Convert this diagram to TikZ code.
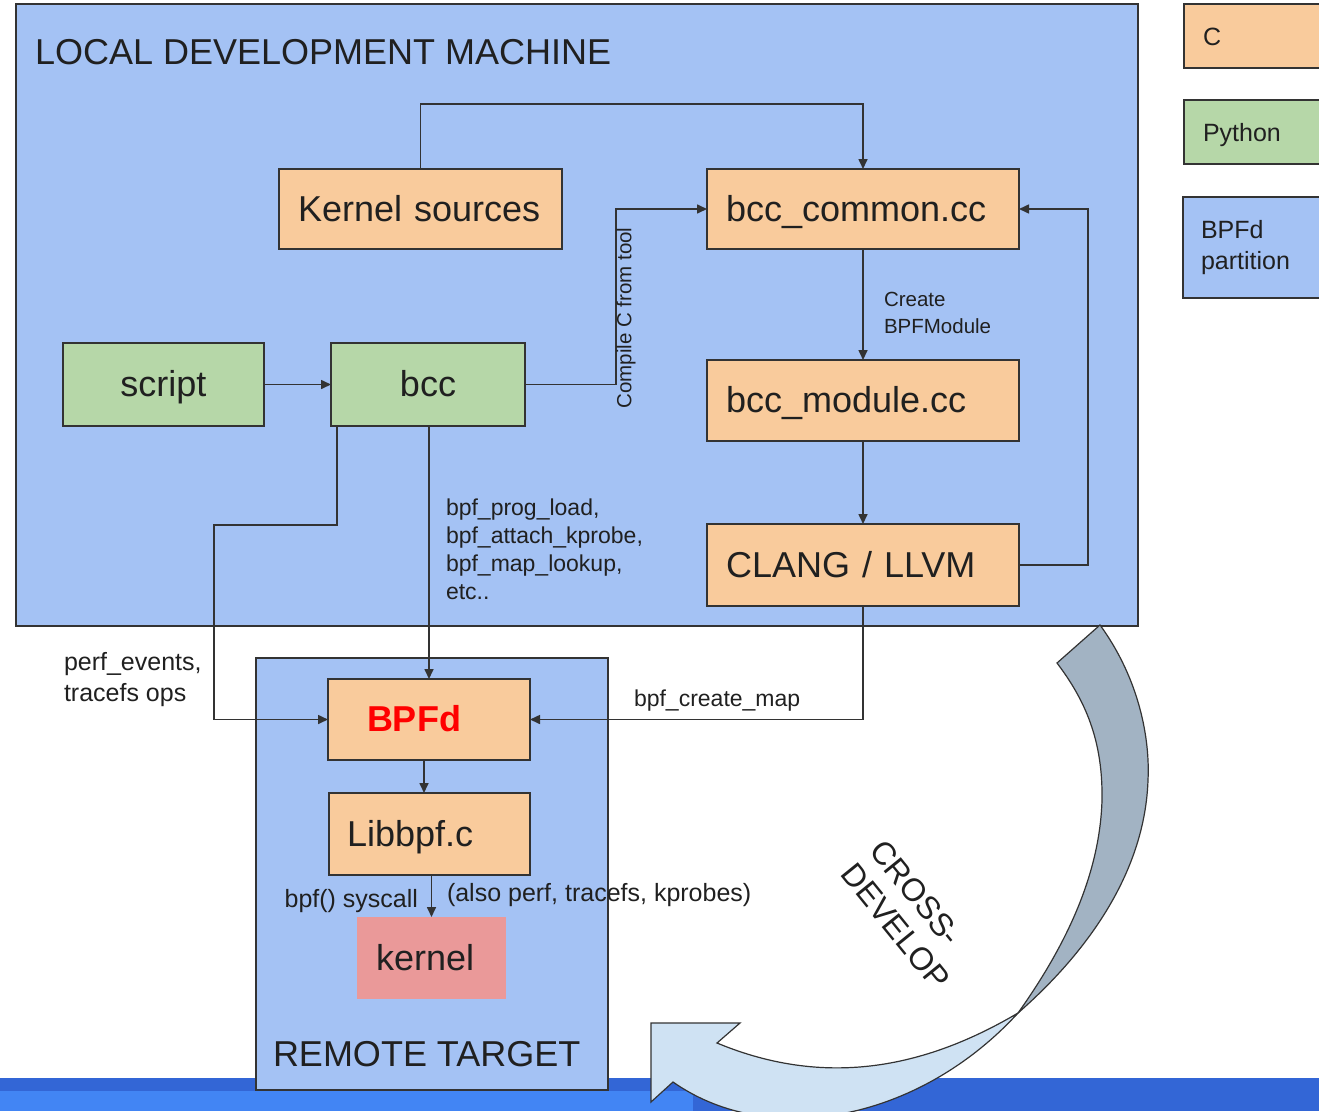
\documentclass[tikz,border=0pt]{standalone}
\usepackage{fontspec}
\setmainfont{Liberation Sans}
\usetikzlibrary{arrows.meta}
\definecolor{bpfblue}{HTML}{A4C2F4}
\definecolor{corange}{HTML}{F9CB9C}
\definecolor{pygreen}{HTML}{B6D7A8}
\definecolor{kred}{HTML}{EA9999}
\definecolor{linec}{HTML}{333333}
\definecolor{bara}{HTML}{3366D6}
\definecolor{barb}{HTML}{4285F4}
\definecolor{arrgray}{HTML}{A2B3C3}
\definecolor{arrlight}{HTML}{CFE2F3}
\definecolor{txt}{HTML}{202020}
\newcommand\szbig{\fontsize{36}{42}\selectfont}
\newcommand\szlbl{\fontsize{23}{28}\selectfont}
\newcommand\szmid{\fontsize{25}{31}\selectfont}
\newcommand\szsm{\fontsize{20.5}{27}\selectfont}
\newcommand\szcross{\fontsize{32}{37}\selectfont}
\begin{document}
\begin{tikzpicture}[x=1pt,y=-1pt,
  every node/.style={inner sep=0pt, outer sep=0pt, text=txt},
  box/.style={draw=linec, line width=1.8pt, anchor=north west, align=left,
    font=\szbig, text height=32pt, text depth=8pt},
  cbox/.style={box, fill=corange},
  pbox/.style={box, fill=pygreen},
  area/.style={draw=linec, line width=1.6pt, fill=bpfblue, anchor=north west},
  legbox/.style={draw=linec, line width=1.8pt, anchor=north west, align=left,
    font=\szmid, minimum width=200pt, text width=162pt},
  arr/.style={draw=linec, line width=1.6pt, -{Triangle[length=10pt,width=9pt]}},
  lbl/.style={anchor=north west, align=left},
]
\useasboundingbox (0,0) rectangle (1319,1111);
\clip (0,0) rectangle (1319,1111);
% bottom bar
\fill[bara] (0,1078) rectangle (1319,1111);
\fill[barb] (0,1091) rectangle (693,1111);

% containers
\node[area, minimum width=1122pt, minimum height=622pt] (local) at (16,4) {};
\node[area, minimum width=352pt, minimum height=432pt] (remote) at (256,658) {};
\node[anchor=base west, font=\szbig] (title) at (35,64) {LOCAL DEVELOPMENT MACHINE};
\node[anchor=base west, font=\szbig] (rtitle) at (273,1066) {REMOTE TARGET};

% boxes
\node[cbox, minimum width=283pt, minimum height=80pt, text width=245pt] (ks) at (279,169) {Kernel sources};
\node[cbox, minimum width=312pt, minimum height=80pt, text width=274pt] (bcom) at (707,169) {bcc\_common.cc};
\node[pbox, minimum width=201pt, minimum height=83pt, text width=201pt, align=center] (script) at (63,343) {script};
\node[pbox, minimum width=194pt, minimum height=83pt, text width=194pt, align=center] (bcc) at (331,343) {bcc};
\node[cbox, minimum width=312pt, minimum height=81pt, text width=274pt] (bmod) at (707,360) {bcc\_module.cc};
\node[cbox, minimum width=312pt, minimum height=82pt, text width=274pt] (clang) at (707,524) {CLANG / LLVM};
\node[cbox, minimum width=202pt, minimum height=81pt, text width=124pt, text=red, font=\szbig\bfseries] (bpfd) at (328,679) {BPFd};
\node[cbox, minimum width=201pt, minimum height=82pt, text width=165pt] (lib) at (329,793) {Libbpf.c};
\node[box, draw=none, fill=kred, minimum width=149pt, minimum height=82pt, text width=111pt] (kern) at (357,917) {kernel};

% legend
\node[legbox, fill=corange, minimum height=64pt, text height=23pt, text depth=5pt] (legc) at (1184,4) {C};
\node[legbox, fill=pygreen, minimum height=64pt, text height=23pt, text depth=5pt] (legpy) at (1184,100) {Python};
\node[legbox, fill=bpfblue, minimum height=101pt, text width=164pt] (legb) at (1183,197) {BPFd\\partition};

% connectors
\draw[arr] (ks.north) -- ++(0,-65) -| (bcom.north);
\draw[arr] (bcc.east) -- ++(91,0) |- (bcom.west);
\draw[arr] (script.east) -- (bcc.west);
\draw[arr] (bcom.south) -- (bmod.north);
\draw[arr] (bmod.south) -- (clang.north);
\draw[arr] (clang.east) -- ++(69,0) |- (bcom.east);
\draw[arr] (clang.south) |- (bpfd.east);
\draw[arr] (bcc.south -| bpfd.north) -- (bpfd.north);
\draw[arr] ([xshift=6pt]bcc.south west) |- ++(-123,99) |- (bpfd.west);
\draw[arr] ([xshift=-5pt]bpfd.south) -- ([xshift=-5pt]bpfd.south |- lib.north);
\draw[arr] (lib.south -| kern.north) -- (kern.north);

% labels
\node[rotate=90, font=\szsm] (lcomp) at (626,318) {Compile C from tool};
\node[lbl, font=\szsm] (lcreate) at (884,292) {Create\\BPFModule};
\node[lbl, font=\szlbl] (lcalls) at (446,499) {bpf\_prog\_load,\\bpf\_attach\_kprobe,\\bpf\_map\_lookup,\\etc..};
\node[lbl, font=\szmid] (lperf) at (64,652) {perf\_events,\\tracefs ops};
\node[anchor=base west, font=\szlbl] (lmap) at (634,706) {bpf\_create\_map};
\node[anchor=base east, font=\szmid] (lsys) at (418,907) {bpf() syscall};
\node[anchor=base west, font=\szmid] (lalso) at (447,901) {(also perf, tracefs, kprobes)};

% curved arrow
\filldraw[fill=arrgray, draw=linec, line width=1.2pt]
  (1100,625) .. controls (1140,680) and (1150,740) .. (1148,780)
  .. controls (1145,870) and (1090,950) .. (1018,1013)
  .. controls (1070,940) and (1100,870) .. (1102,800)
  .. controls (1103,740) and (1085,700) .. (1057,663) -- cycle;
\filldraw[fill=arrlight, draw=linec, line width=1.2pt]
  (1018,1013) .. controls (930,1065) and (830,1090) .. (717,1043)
  -- (740,1023) -- (651,1023) -- (651,1102) -- (673,1082)
  .. controls (770,1150) and (920,1120) .. (1018,1013) -- cycle;
\node[rotate=-51, font=\szcross, align=left] (lcross) at (910,915) {CROSS-\\DEVELOP};
\end{tikzpicture}
\end{document}
